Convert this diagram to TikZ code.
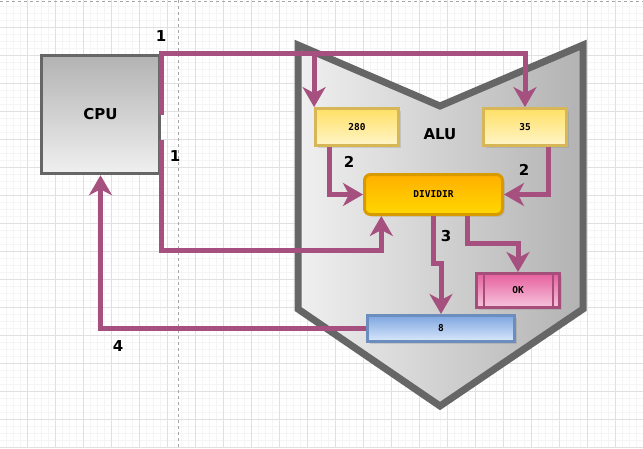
\documentclass[tikz,border=0pt]{standalone}
\usepackage{fontspec}
\usetikzlibrary{arrows.meta,shadows,calc}
\newfontfamily\lblfont{DejaVu Sans}
\newfontfamily\boxfont{DejaVu Sans Mono}
\definecolor{linkcol}{HTML}{A5507F}
\definecolor{edgegray}{HTML}{666666}
\definecolor{regedge}{HTML}{D6B656}
\definecolor{divedge}{HTML}{D79B00}
\definecolor{okedge}{HTML}{A64D79}
\definecolor{resedge}{HTML}{6C8EBF}
\begin{document}
\begin{tikzpicture}[x=1pt,y=-1pt,
  minorgrid/.style={draw=black!4,line width=0.6pt},
  majorgrid/.style={draw=black!12,line width=0.8pt},
  guide/.style={draw=black!35,line width=0.6pt,dash pattern=on 3pt off 3pt},
  alubody/.style={draw=edgegray,line width=7pt,left color=black!6,right color=black!30},
  cpubox/.style={draw=edgegray,line width=3.5pt,top color=black!30,bottom color=black!6,
    minimum width=118pt,minimum height=118pt,font=\lblfont\bfseries\fontsize{15}{17}\selectfont},
  regbox/.style={draw=regedge,line width=2.8pt,top color={rgb,255:red,255;green,224;blue,102},
    bottom color={rgb,255:red,255;green,245;blue,200},minimum width=83pt,minimum height=37pt,
    font=\boxfont\bfseries\fontsize{9.5}{11}\selectfont,
    drop shadow={shadow xshift=2pt,shadow yshift=-2pt,opacity=0.25}},
  opbox/.style={draw=divedge,line width=3pt,rounded corners=6pt,
    top color={rgb,255:red,255;green,176;blue,0},bottom color={rgb,255:red,255;green,215;blue,0},
    minimum width=138pt,minimum height=40pt,font=\boxfont\bfseries\fontsize{9.5}{11}\selectfont,
    drop shadow={shadow xshift=2pt,shadow yshift=-2pt,opacity=0.25}},
  flagbox/.style={draw=okedge,line width=3pt,
    top color={rgb,255:red,230;green,96;blue,157},bottom color={rgb,255:red,246;green,198;blue,222},
    minimum width=83pt,minimum height=34pt,font=\boxfont\bfseries\fontsize{9.5}{11}\selectfont,
    drop shadow={shadow xshift=2pt,shadow yshift=-2pt,opacity=0.25},
    path picture={
      \draw[okedge,line width=2pt] ([xshift=7pt]path picture bounding box.north west) -- ([xshift=7pt]path picture bounding box.south west);
      \draw[okedge,line width=2pt] ([xshift=-7pt]path picture bounding box.north east) -- ([xshift=-7pt]path picture bounding box.south east);}},
  resbox/.style={draw=resedge,line width=3pt,
    top color={rgb,255:red,126;green,166;blue,224},bottom color={rgb,255:red,218;green,232;blue,252},
    minimum width=147pt,minimum height=26pt,font=\boxfont\bfseries\fontsize{9.5}{11}\selectfont,
    drop shadow={shadow xshift=2pt,shadow yshift=-2pt,opacity=0.25}},
  link/.style={draw=linkcol,line width=5pt,-{Stealth[length=20pt,width=23pt,inset=6pt]}},
  flag/.style={font=\lblfont\bfseries\fontsize{15}{17}\selectfont}]
\useasboundingbox[fill=white] (0,0) rectangle (643,448);
% Background grid
\foreach \i in {0,...,91} \draw[minorgrid] (6+7*\i,0) -- (6+7*\i,448);
\foreach \i in {0,...,63} \draw[minorgrid] (0,6+7*\i) -- (643,6+7*\i);
\foreach \i in {0,...,22} \draw[majorgrid] (27+28*\i,0) -- (27+28*\i,448);
\foreach \i in {0,...,15} \draw[majorgrid] (0,27+28*\i) -- (643,27+28*\i);
\draw[guide] (178,0) -- (178,448);
\draw[guide] (0,1) -- (643,1);
% ALU body
\draw[alubody] (298,45) -- (440,106) -- (583,45) -- (583,309) -- (440,406) -- (298,309) -- cycle;
\node[flag] (alu) at (440,134) {ALU};
% Units
\node[cpubox] (cpu) at (100.5,114.5) {CPU};
\node[regbox] (r280) at (357,127) {280};
\node[regbox] (r35) at (525,127) {35};
\node[opbox] (div) at (433.5,194.5) {DIVIDIR};
\node[flagbox] (ok) at (518,290.5) {OK};
\node[resbox] (r8) at (441,328.5) {8};
% Data Flow Edges:
\draw[link] (cpu.east) -- (cpu.north east) -| (r280.north west);
\draw[link] (cpu.east) -- (cpu.north east) -| (r35.north);
\draw[link] ([yshift=-25pt]cpu.east) -- ([yshift=-135.5pt]cpu.east) -| ($(div.south west)!0.13!(div.south east)$);
\draw[link] ($(r280.south west)!0.18!(r280.south east)$) |- (div.west);
\draw[link] ($(r35.south west)!0.77!(r35.south east)$) |- (div.east);
% Result Edges:
\draw[link] (div.south) -- ++(0,47) -| (r8.north);
\draw[link] ($(div.south west)!0.74!(div.south east)$) -- ++(0,27) -| (ok.north);
\draw[link] (r8.west) -| (cpu.south);
% Step Numbers
\node[flag] (n1a) at (161,36) {1};
\node[flag] (n1b) at (175,156) {1};
\node[flag] (n2a) at (349,162) {2};
\node[flag] (n2b) at (524,170) {2};
\node[flag] (n3) at (446,236) {3};
\node[flag] (n4) at (118,346) {4};
\end{tikzpicture}
\end{document}
